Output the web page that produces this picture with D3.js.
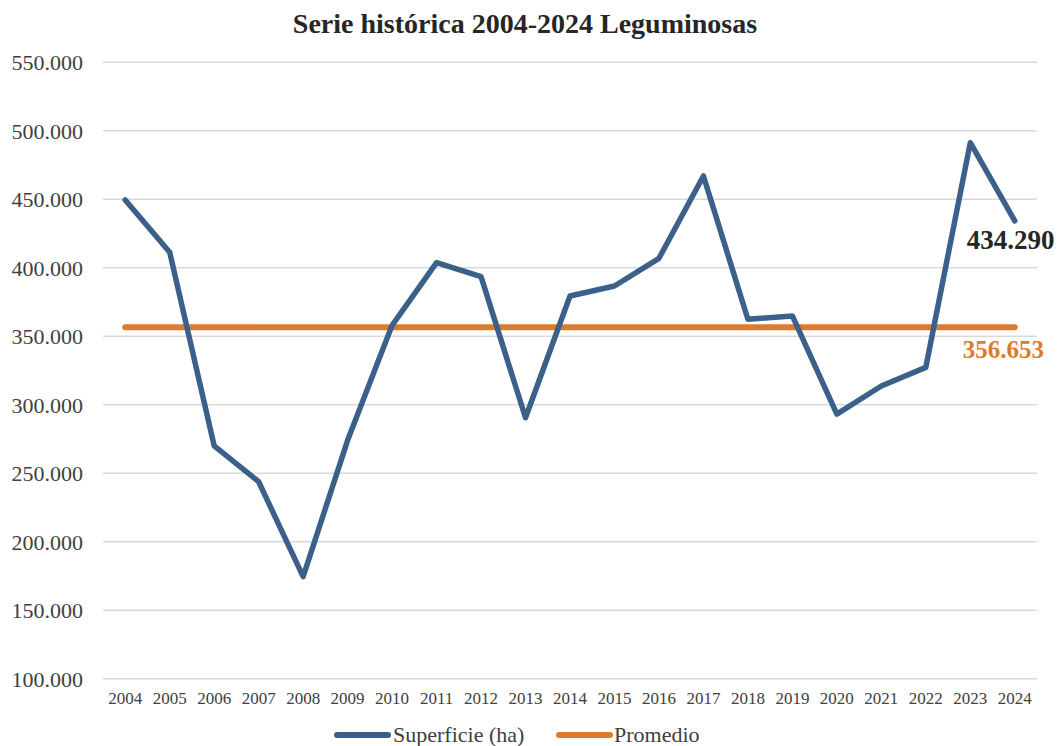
<!DOCTYPE html>
<html>
<head>
<meta charset="utf-8">
<script src="https://cdn.jsdelivr.net/npm/d3@7/dist/d3.min.js"></script>
<style>
  html, body { margin: 0; padding: 0; background: #fff; }
  svg { display: block; }
  text { font-family: "Liberation Serif", "DejaVu Serif", serif; }
</style>
</head>
<body>
<svg id="chart" width="1059" height="746"></svg>
<script>
const years = ["2004","2005","2006","2007","2008","2009","2010","2011","2012","2013","2014","2015","2016","2017","2018","2019","2020","2021","2022","2023","2024"];
const superficie = [449500, 411300, 269900, 243800, 174500, 274000, 358000, 403700, 393500, 290500, 379400, 386700, 406900, 467000, 362400, 364800, 293200, 313700, 327300, 491300, 434290];
const promedio = 356653;
const yTicks = [100000, 150000, 200000, 250000, 300000, 350000, 400000, 450000, 500000, 550000];
const seriesNames = ["Superficie (ha)", "Promedio"];
const colors = ["#3B618A", "#DE7A2B"];
const title = "Serie histórica 2004-2024 Leguminosas";

const fmt = v => d3.format(",.0f")(v).replace(/,/g, ".");
const serif = "Liberation Serif, DejaVu Serif, serif";

const svg = d3.select("#chart");
const margin = { left: 103, right: 1037, top: 62.3, bottom: 678.7 };

const x = d3.scaleBand().domain(years).range([margin.left, margin.right]);
const y = d3.scaleLinear().domain([100000, 550000]).range([margin.bottom, margin.top]);
const cx = d => x(d) + x.bandwidth() / 2;

// Title
svg.append("text")
  .attr("x", 525).attr("y", 33)
  .attr("text-anchor", "middle")
  .attr("font-size", 28).attr("font-weight", "bold")
  .attr("fill", "#262626")
  .text(title);

// Gridlines
svg.append("g").selectAll("line").data(yTicks).join("line")
  .attr("x1", margin.left).attr("x2", margin.right)
  .attr("y1", d => y(d)).attr("y2", d => y(d))
  .attr("stroke", "#D9D9D9").attr("stroke-width", 1.5);

// Y axis labels
const yAxis = d3.axisLeft(y).tickValues(yTicks).tickFormat(fmt).tickSize(0).tickPadding(0);
const gy = svg.append("g").attr("transform", "translate(83,0)").call(yAxis)
  .attr("font-family", serif);
gy.select(".domain").remove();
gy.selectAll("text").attr("font-size", 22).attr("fill", "#404040")
  .attr("font-family", serif).attr("dy", "0.34em");

// X axis labels
const xAxis = d3.axisBottom(x).tickSize(0).tickPadding(0);
const gx = svg.append("g").attr("transform", "translate(0,692)").call(xAxis)
  .attr("font-family", serif);
gx.select(".domain").remove();
gx.selectAll("text").attr("font-size", 17).attr("fill", "#404040")
  .attr("font-family", serif).attr("dy", "0.71em");

// Promedio line
svg.append("line")
  .attr("x1", cx(years[0])).attr("x2", cx(years[years.length - 1]))
  .attr("y1", y(promedio)).attr("y2", y(promedio))
  .attr("stroke", colors[1]).attr("stroke-width", 6).attr("stroke-linecap", "round");

// Superficie line
const line = d3.line().x((d, i) => cx(years[i])).y(d => y(d));
svg.append("path").datum(superficie)
  .attr("d", line)
  .attr("fill", "none").attr("stroke", colors[0]).attr("stroke-width", 5.5)
  .attr("stroke-linejoin", "round").attr("stroke-linecap", "round");

// Data labels
const last = superficie[superficie.length - 1];
svg.append("text")
  .attr("x", cx(years[years.length - 1]) - 48).attr("y", y(last) + 28)
  .attr("font-size", 27).attr("font-weight", "bold").attr("fill", "#262626")
  .text(fmt(last));
svg.append("text")
  .attr("x", cx(years[years.length - 1]) - 52).attr("y", y(promedio) + 31)
  .attr("font-size", 25).attr("font-weight", "bold").attr("fill", colors[1])
  .text(fmt(promedio));

// Legend
const legend = [
  { name: seriesNames[0], color: colors[0], x0: 337, x1: 388, tx: 393 },
  { name: seriesNames[1], color: colors[1], x0: 559, x1: 610, tx: 614 }
];
const lg = svg.append("g");
lg.selectAll("line").data(legend).join("line")
  .attr("x1", d => d.x0).attr("x2", d => d.x1)
  .attr("y1", 735).attr("y2", 735)
  .attr("stroke", d => d.color).attr("stroke-width", 6).attr("stroke-linecap", "round");
lg.selectAll("text").data(legend).join("text")
  .attr("x", d => d.tx).attr("y", 742)
  .attr("font-size", 22).attr("fill", "#404040")
  .text(d => d.name);
</script>
</body>
</html>
